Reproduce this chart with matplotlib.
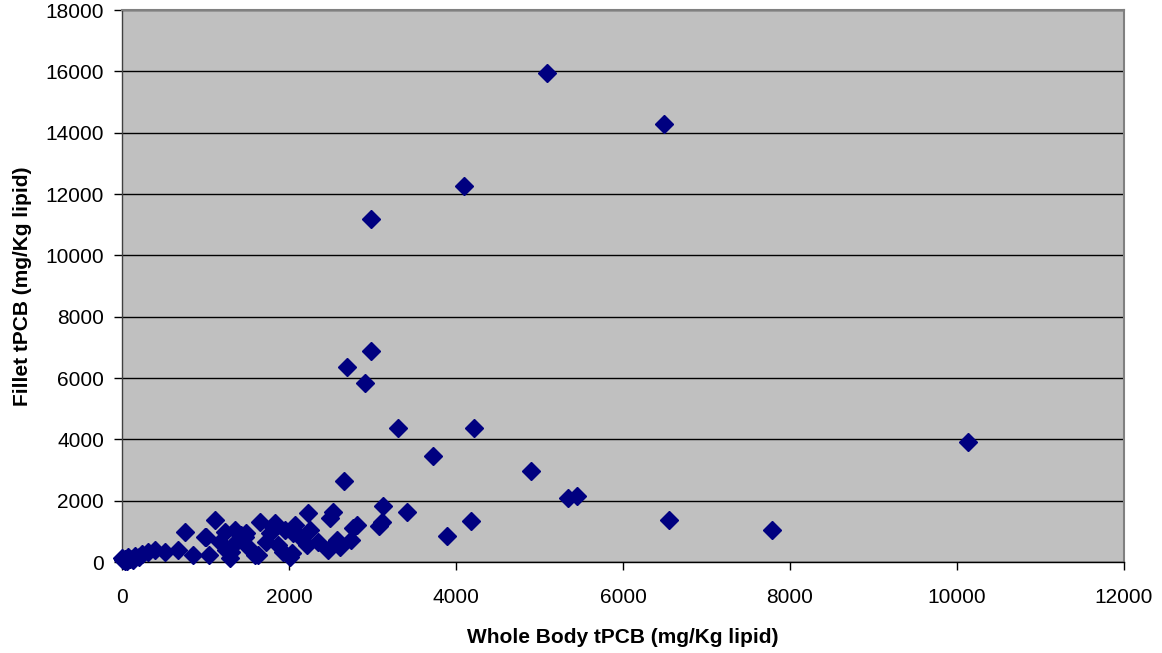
import matplotlib
matplotlib.use("Agg")
import matplotlib.pyplot as plt

plt.rcParams['font.family'] = ['Liberation Sans', 'DejaVu Sans']

whole_body = [
    5090, 6490, 4100, 2980, 2690, 2980, 2910, 3300, 4220, 3730,
    10130, 4900, 5340, 5450, 2660, 3120, 3410, 4180, 3890, 6550,
    7790, 3110, 3080, 2820, 2770, 2745,
    2230, 2530, 2490, 2070, 2250, 2130, 2350, 2210, 2570, 2610,
    2470, 2010, 2050, 2030,
    1110, 1010, 1045, 1230, 1350, 1170, 1310, 1390, 1470, 1510,
    1650, 1830, 1770, 1950, 1630, 1730, 1870, 1290, 1590, 1430,
    1490, 1250, 1330, 1810, 1930,
    755, 995, 675, 855, 515, 395, 315, 235, 155, 75,
    0, 15, 95, 40, 130, 200, 30, 60,
]
fillet = [
    15950, 14290, 12270, 11190, 6360, 6880, 5840, 4370, 4370, 3460,
    3915, 2970, 2090, 2150, 2640, 1810, 1620, 1340, 850, 1370,
    1040, 1300, 1180, 1210, 1110, 720,
    1590, 1640, 1420, 1200, 1040, 820, 660, 550, 720, 500,
    390, 170, 930, 280,
    1370, 820, 225, 990, 1040, 660, 330, 720, 820, 500,
    1310, 1260, 930, 1040, 225, 660, 550, 120, 225, 880,
    930, 400, 550, 1150, 330,
    990, 800, 390, 225, 330, 390, 330, 250, 200, 170,
    140, 60, 100, 30, 80, 150, 110, 20,
]

x_ticks = [0, 2000, 4000, 6000, 8000, 10000, 12000]
y_ticks = [0, 2000, 4000, 6000, 8000, 10000, 12000, 14000, 16000, 18000]

fig = plt.figure(figsize=(11.62, 6.53), dpi=100)
ax = fig.add_axes([122/1162, (653-562)/653, (1124-122)/1162, (562-10)/653])
ax.set_facecolor('#C0C0C0')
ax.set_xlim(0, 12000)
ax.set_ylim(0, 18000)
ax.set_xticks(x_ticks)
ax.set_yticks(y_ticks)
ax.grid(axis='y', color='black', linewidth=1.0)
ax.set_axisbelow(True)
ax.plot(whole_body, fillet, linestyle='none', marker='D', markersize=9,
        color='#000080', markeredgecolor='#000080', clip_on=False, zorder=3)

for s in ['top', 'right']:
    ax.spines[s].set_color('#808080')
    ax.spines[s].set_linewidth(1.5)
for s in ['left', 'bottom']:
    ax.spines[s].set_color('#404040')
    ax.spines[s].set_linewidth(1.0)
ax.spines['bottom'].set_color('black')

ax.tick_params(axis='both', direction='out', length=6, width=1, colors='black', labelsize=15)
ax.tick_params(axis='x', pad=13)
ax.tick_params(axis='y', pad=7)

ax.set_xlabel('Whole Body tPCB (mg/Kg lipid)', fontsize=15, fontweight='bold', labelpad=15)
ax.set_ylabel('Fillet tPCB (mg/Kg lipid)', fontsize=15, fontweight='bold', labelpad=9.5)

fig.savefig('out.png', dpi=100)
